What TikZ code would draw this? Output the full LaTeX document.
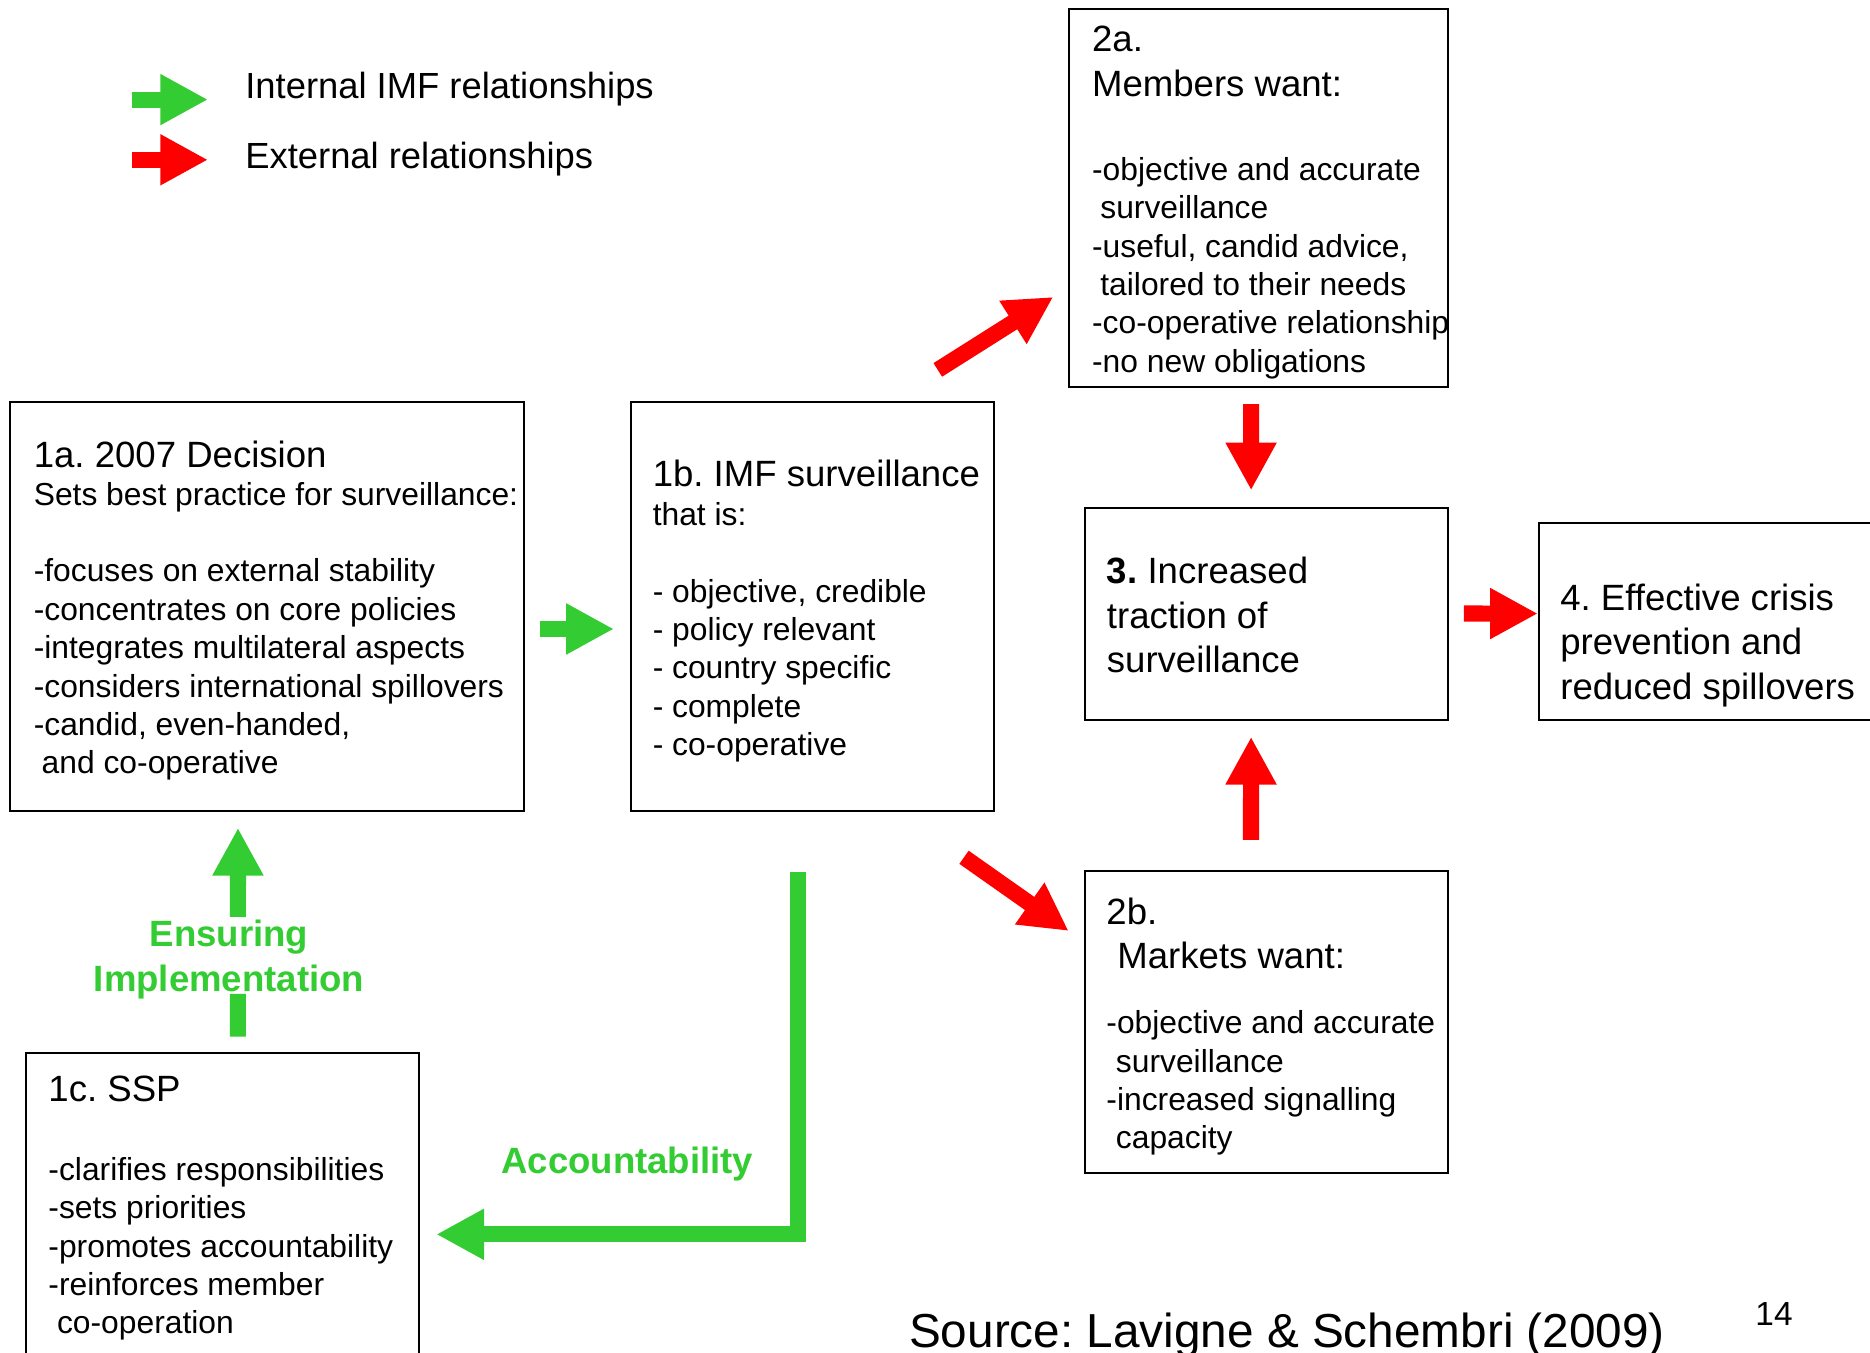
\documentclass[tikz,border=0pt]{standalone}
\usepackage{fontspec}
\setmainfont{Liberation Sans}
\usetikzlibrary{arrows.meta,fit}
\definecolor{imfgreen}{HTML}{33CC33}
\definecolor{imfred}{HTML}{FF0000}
\newcommand{\mystrut}{\rule{0pt}{0.8em}}
\begin{document}
\frenchspacing
\begin{tikzpicture}[x=0.6pt,y=-0.6pt,
  box/.style={draw=black, line width=1pt, inner sep=0pt},
  bodytext/.style={anchor=north west, inner sep=0pt, align=left, font=\frenchspacing\fontsize{16}{19.3}\selectfont},
  headtext/.style={anchor=north west, inner sep=0pt, align=left, font=\frenchspacing\fontsize{18.4}{22.4}\selectfont},
  glabel/.style={inner sep=0pt, align=center, text=imfgreen, font=\frenchspacing\bfseries\fontsize{18.4}{22.7}\selectfont},
  blockarrow/.style={line width=8.1pt, -{Triangle[length=24pt,width=24pt]}},
  garrow/.style={blockarrow, draw=imfgreen},
  rarrow/.style={blockarrow, draw=imfred},
  gline/.style={draw=imfgreen, line width=8.1pt},
]
\useasboundingbox (0,0) rectangle (1568,1134);
\fill[white] (0,0) rectangle (1568,1134);
\clip (0,0) rectangle (1568,1134);

% legend
\coordinate (lg1) at (111,83.5);
\coordinate (lg2) at (174.4,83.5);
\coordinate (lr1) at (111,134);
\coordinate (lr2) at (174.4,134);
\draw[garrow] (lg1) -- (lg2);
\draw[rarrow] (lr1) -- (lr2);
\node[anchor=base west, inner sep=0pt, font=\fontsize{18.3}{22}\selectfont] (legi) at (205.4,82.5) {Internal IMF relationships};
\node[anchor=base west, inner sep=0pt, font=\fontsize{18.3}{22}\selectfont] (lege) at (205.4,141.1) {External relationships};

% boxes
\node[box, fit={(8.5,337) (439.6,679.8)}] (a1) {};
\node[box, fit={(528.8,337) (833.5,679.8)}] (b1) {};
\node[box, fit={(896.6,7.8) (1214.4,324.2)}] (a2) {};
\node[box, fit={(909.6,426.2) (1214.5,603.7)}] (t3) {};
\node[box, fit={(1290.3,438.3) (1590,603.7)}] (f4) {};
\node[box, fit={(909.4,730.3) (1214.3,983.9)}] (b2) {};
\node[box, fit={(21.9,883) (351.7,1160)}] (c1) {};

% texts 1a
\node[headtext] (a1h) at (28,367.1) {\mystrut 1a. 2007 Decision};
\node[bodytext] (a1t) at (28,402) {\mystrut Sets best practice for surveillance:\\[19.3pt]
-focuses on external stability\\
-concentrates on core policies\\
-integrates multilateral aspects\\
-considers international spillovers\\
-candid, even-handed,\\
\hspace*{0.25em}and co-operative};

% texts 1b
\node[headtext] (b1h) at (547,382.9) {\mystrut 1b. IMF surveillance};
\node[bodytext] (b1t) at (547,418.9) {\mystrut that is:\\[19.3pt]
- objective, credible\\
- policy relevant\\
- country specific\\
- complete\\
- co-operative};

% texts 2a
\node[headtext] (a2h) at (915.4,18.7) {\mystrut 2a.\\Members want:};
\node[bodytext] (a2t) at (915.4,129.6) {\mystrut -objective and accurate\\
\hspace*{0.26em}surveillance\\
-useful, candid advice,\\
\hspace*{0.26em}tailored to their needs\\
-co-operative relationship\\
-no new obligations};

% texts 3
\node[headtext] (t3h) at (927.8,464.5) {\mystrut\textbf{3.} Increased\\traction of\\surveillance};

% texts 4
\node[headtext] (f4h) at (1308,486.9) {\mystrut 4. Effective crisis\\prevention and\\reduced spillovers};

% texts 2b
\node[headtext] (b2h) at (927.4,750.2) {\mystrut 2b.\\\hspace*{0.3em}Markets want:};
\node[bodytext] (b2t) at (927.4,845.2) {\mystrut -objective and accurate\\
\hspace*{0.3em}surveillance\\
-increased signalling\\
\hspace*{0.3em}capacity};

% texts 1c
\node[headtext] (c1h) at (40.3,898.8) {\mystrut 1c. SSP};
\node[bodytext] (c1t) at (40.3,968.1) {\mystrut -clarifies responsibilities\\
-sets priorities\\
-promotes accountability\\
-reinforces member\\
\hspace*{0.27em}co-operation};

% green labels
\node[glabel, anchor=north] (ens) at (192,768.9) {\mystrut Ensuring\\Implementation};
\node[glabel, anchor=base west] (acc) at (420,984) {Accountability};

% connectors
\draw[garrow] ([shift={(12.6,19)}]a1.east) -- ([shift={(-13.2,19)}]b1.west);
\draw[rarrow] ([shift={(-48,-26)}]b1.north east) -- ([shift={(-12.6,83)}]a2.west);
\draw[rarrow] ([shift={(-26,38.2)}]b1.south east) -- ([shift={(-12.5,-76.5)}]b2.west);
\draw[rarrow] ([shift={(-6.5,13.8)}]a2.south) -- ([shift={(-13,-14.2)}]t3.north);
\draw[rarrow] ([shift={(-12.9,-25.3)}]b2.north) -- ([shift={(-13,13.3)}]t3.south);
\draw[rarrow] ([shift={(12.1,-0.5)}]t3.east) -- ([shift={(0,-6.5)}]f4.west);
\draw[garrow] ([shift={(7.5,0)}]ens.north) -- ([shift={(-24.5,13.5)}]a1.south);
\draw[gline] ([shift={(12.7,-13)}]c1.north) -- ([shift={(7.5,-5)}]ens.south);
\draw[garrow, line join=miter] ([shift={(-12,50.5)}]b1.south) |- ([shift={(13.3,13.5)}]c1.east);

% source and page number
\node[anchor=base west, inner sep=0pt, font=\frenchspacing\fontsize{24}{28}\selectfont] (src) at (762,1130) {Source: Lavigne \& Schembri (2009)};
\node[anchor=base west, inner sep=0pt, font=\fontsize{16.8}{20}\selectfont] (pg) at (1471.6,1111.6) {14};
\end{tikzpicture}
\end{document}
